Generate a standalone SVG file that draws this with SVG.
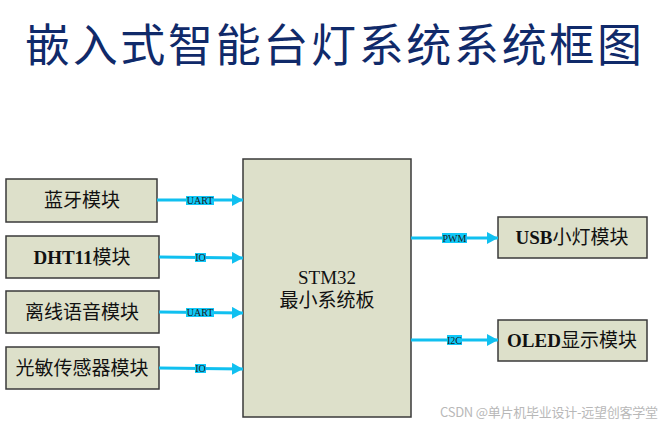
<svg xmlns="http://www.w3.org/2000/svg" width="664" height="427" viewBox="0 0 664 427">
<style>
.box{fill:#dde0ca;stroke:#3a3a3a;stroke-width:1.5}
.t{font-family:"Liberation Serif","Noto Sans CJK SC",serif;font-size:19px;fill:#111;text-anchor:middle}
.b{font-weight:bold}
.conn{stroke:#10c0f0;stroke-width:3;fill:none}
.lbg{fill:#10c8f8}
.lt{font-family:"Liberation Serif",serif;font-size:10px;fill:#1a1a1a;text-anchor:middle}
</style>
<defs>
<marker id="ah" markerUnits="userSpaceOnUse" markerWidth="12" markerHeight="12" refX="11" refY="6" orient="auto">
<path d="M0,0 L11,6 L0,12 Z" fill="#10c0f0"/>
</marker>
</defs>
<rect width="664" height="427" fill="#fff"/>
<text x="25" y="62" font-family="'Noto Sans CJK SC',sans-serif" font-size="45" fill="#102a6a" textLength="617" lengthAdjust="spacing">嵌入式智能台灯系统系统框图</text>

<g id="stm32">
<rect class="box" x="243" y="159" width="168" height="258"/>
<text class="t" x="327" y="284">STM32</text>
<text class="t" x="327" y="307">最小系统板</text>
</g>
<g id="bluetooth">
<rect class="box" x="6" y="179" width="151" height="43"/>
<text class="t" x="82" y="207">蓝牙模块</text>
</g>
<g id="dht11">
<rect class="box" x="6" y="236" width="153" height="42"/>
<text class="t" x="82" y="264"><tspan class="b">DHT11</tspan>模块</text>
</g>
<g id="voice">
<rect class="box" x="6" y="291" width="153" height="42"/>
<text class="t" x="82" y="319">离线语音模块</text>
</g>
<g id="light">
<rect class="box" x="6" y="347" width="153" height="42"/>
<text class="t" x="82" y="375">光敏传感器模块</text>
</g>
<g id="usb">
<rect class="box" x="498" y="217" width="149" height="41"/>
<text class="t" x="572" y="244"><tspan class="b">USB</tspan>小灯模块</text>
</g>
<g id="oled">
<rect class="box" x="498" y="320" width="149" height="41"/>
<text class="t" x="572" y="347"><tspan class="b">OLED</tspan>显示模块</text>
</g>

<g id="connectors">
<line class="conn" x1="157" y1="200" x2="243" y2="200" marker-end="url(#ah)"/>
<line class="conn" x1="159" y1="257" x2="243" y2="258" marker-end="url(#ah)"/>
<line class="conn" x1="159" y1="312" x2="243" y2="313" marker-end="url(#ah)"/>
<line class="conn" x1="159" y1="368" x2="243" y2="369" marker-end="url(#ah)"/>
<line class="conn" x1="411" y1="238" x2="498" y2="238" marker-end="url(#ah)"/>
<line class="conn" x1="411" y1="340" x2="498" y2="340" marker-end="url(#ah)"/>
<rect class="lbg" x="186" y="196" width="28" height="9"/>
<text class="lt" x="200" y="204">UART</text>
<rect class="lbg" x="195" y="253" width="11" height="9"/>
<text class="lt" x="200.5" y="261">IO</text>
<rect class="lbg" x="186" y="308" width="28" height="9"/>
<text class="lt" x="200" y="316">UART</text>
<rect class="lbg" x="195" y="364" width="11" height="9"/>
<text class="lt" x="200.5" y="372">IO</text>
<rect class="lbg" x="442" y="233" width="25" height="10"/>
<text class="lt" x="454.5" y="241.5">PWM</text>
<rect class="lbg" x="447" y="335" width="15" height="10"/>
<text class="lt" x="454.5" y="343.5">I2C</text>
</g>
<text x="440" y="417" font-family="'Noto Sans CJK SC',sans-serif" font-size="13" fill="#b8b8b8" textLength="218" lengthAdjust="spacing">CSDN @单片机毕业设计-远望创客学堂</text>
</svg>
